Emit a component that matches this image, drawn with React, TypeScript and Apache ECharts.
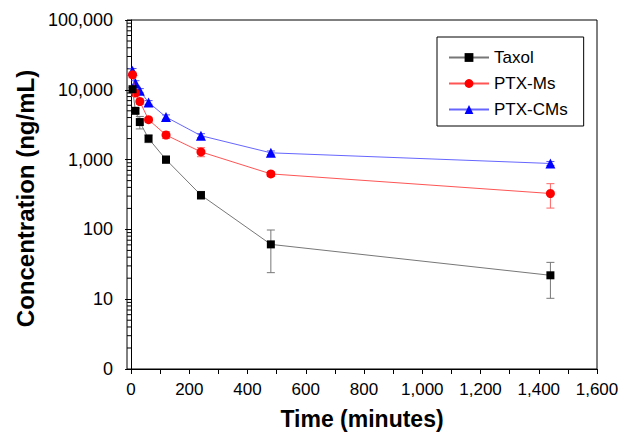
import React, { useEffect, useRef } from "react";
import * as echarts from "echarts";

const times = [5, 15, 30, 60, 120, 240, 480, 1440];
const taxol = [10200, 5000, 3450, 2000, 1000, 310, 61, 22];
const taxolErr = [600, 400, 700, 250, 120, 40, 37, 11.7];
const ptxMs = [16400, 9000, 6800, 3730, 2250, 1290, 624, 327];
const ptxMsErr = [1500, 900, 600, 300, 250, 190, 50, 125];
const ptxCMs = [18700, 12500, 9700, 6600, 4070, 2200, 1250, 880];
const ptxCMsErr = [1500, 1000, 700, 400, 300, 150, 80, 60];

const xTicks = [0, 100, 200, 300, 400, 500, 600, 700, 800, 900, 1000, 1100, 1200, 1300, 1400, 1500, 1600];
const xLabels = [0, 200, 400, 600, 800, 1000, 1200, 1400, 1600];
const yTicks = [1, 10, 100, 1000, 10000, 100000];
const yMinorTicks = [
  2, 3, 4, 5, 6, 7, 8, 9,
  20, 30, 40, 50, 60, 70, 80, 90,
  200, 300, 400, 500, 600, 700, 800, 900,
  2000, 3000, 4000, 5000, 6000, 7000, 8000, 9000,
  20000, 30000, 40000, 50000, 60000, 70000, 80000, 90000,
];

const FONT = "'Liberation Sans', Arial, sans-serif";

function errData(vals: number[], errs: number[]) {
  return times.map((t, i) => [t, Math.max(vals[i] - errs[i], 1.01), vals[i] + errs[i]]);
}

function errSeries(name: string, vals: number[], errs: number[], color: string) {
  return {
    type: "custom",
    name: name + "-err",
    z: 1,
    silent: true,
    data: errData(vals, errs),
    encode: { x: 0, y: [1, 2] },
    renderItem: (params: any, api: any) => {
      const x = api.value(0);
      const lo = api.value(1);
      const hi = api.value(2);
      const top = api.coord([x, hi]);
      const bot = api.coord([x, lo]);
      const w = 4;
      const style = { stroke: color, lineWidth: 1 };
      return {
        type: "group",
        children: [
          { type: "line", shape: { x1: top[0], y1: top[1], x2: bot[0], y2: bot[1] }, style },
          { type: "line", shape: { x1: top[0] - w, y1: top[1], x2: top[0] + w, y2: top[1] }, style },
          { type: "line", shape: { x1: bot[0] - w, y1: bot[1], x2: bot[0] + w, y2: bot[1] }, style },
        ],
      };
    },
  };
}

export default function App() {
  const ref = useRef<HTMLDivElement>(null);
  useEffect(() => {
    document.body.style.margin = "0";
    const chart = echarts.init(ref.current!, null, { renderer: "svg" });
    const fmt = (v: number) => (v === 1 ? "0" : Number(v).toLocaleString("en-US"));
    chart.setOption({
      animation: false,
      backgroundColor: "#ffffff",
      grid: {
        left: 127,
        right: 28,
        top: 20,
        bottom: 65,
        show: true,
        borderColor: "#000",
        borderWidth: 1,
        backgroundColor: "transparent",
      },
      legend: {
        data: ["Taxol", "PTX-Ms", "PTX-CMs"],
        orient: "vertical",
        left: 437,
        top: 37,
        itemWidth: 40,
        itemHeight: 11,
        itemGap: 9,
        padding: [12, 16, 8, 11],
        borderColor: "#000",
        borderWidth: 1,
        textStyle: { fontFamily: FONT, fontSize: 17, color: "#000" },
      },
      xAxis: {
        type: "value",
        min: -14,
        max: 1600,
        name: "Time (minutes)",
        nameLocation: "middle",
        nameGap: 38,
        nameTextStyle: { fontFamily: FONT, fontSize: 23, fontWeight: "bold", color: "#000" },
        axisLine: { show: true, onZero: false, lineStyle: { color: "#000", width: 1 } },
        axisTick: { show: true, customValues: xTicks, length: 5, lineStyle: { color: "#000" } },
        axisLabel: {
          customValues: xLabels,
          margin: 12,
          fontFamily: FONT,
          fontSize: 17,
          color: "#000",
          formatter: (v: number) => Number(v).toLocaleString("en-US"),
        },
        splitLine: { show: false },
      },
      yAxis: {
        type: "log",
        logBase: 10,
        min: 1,
        max: 100000,
        position: "left",
        name: "Concentration (ng/mL)",
        nameLocation: "middle",
        nameGap: 88,
        nameTextStyle: { fontFamily: FONT, fontSize: 24, fontWeight: "bold", color: "#000", padding: [0, 0, 0, -8] },
        axisLine: { show: true, lineStyle: { color: "#000", width: 1 } },
        axisTick: { show: true, customValues: yTicks, length: 6, lineStyle: { color: "#000" } },
        axisLabel: {
          customValues: yTicks,
          margin: 14,
          fontFamily: FONT,
          fontSize: 18,
          color: "#000",
          formatter: fmt,
        },
        splitLine: { show: false },
      },
      series: [
        {
          type: "custom",
          name: "minor-ticks",
          silent: true,
          z: 1,
          clip: false,
          data: yMinorTicks.map((v) => [1, v]),
          encode: { x: 0, y: 1 },
          renderItem: (params: any, api: any) => {
            const p = api.coord([0, api.value(1)]);
            const x0 = params.coordSys.x;
            return {
              type: "line",
              shape: { x1: x0, y1: p[1], x2: x0 + 4, y2: p[1] },
              style: { stroke: "#000", lineWidth: 1 },
            };
          },
        },
        errSeries("Taxol", taxol, taxolErr, "#777777"),
        errSeries("PTX-Ms", ptxMs, ptxMsErr, "#ff6666"),
        errSeries("PTX-CMs", ptxCMs, ptxCMsErr, "#5555ff"),
        {
          type: "line",
          name: "PTX-CMs",
          z: 3,
          data: times.map((t, i) => [t, ptxCMs[i]]),
          symbol: "triangle",
          symbolSize: 10,
          itemStyle: { color: "#0000ff" },
          lineStyle: { color: "#6666ff", width: 1 },
        },
        {
          type: "line",
          name: "PTX-Ms",
          z: 4,
          data: times.map((t, i) => [t, ptxMs[i]]),
          symbol: "circle",
          symbolSize: 9,
          itemStyle: { color: "#ff0000" },
          lineStyle: { color: "#ff5555", width: 1 },
        },
        {
          type: "line",
          name: "Taxol",
          z: 5,
          data: times.map((t, i) => [t, taxol[i]]),
          symbol: "rect",
          symbolSize: 8,
          itemStyle: { color: "#000000" },
          lineStyle: { color: "#777777", width: 1 },
        },
      ],
    });
    return () => chart.dispose();
  }, []);
  return (
    <div
      ref={ref}
      style={{ width: 625, height: 435, position: "fixed", left: 0, top: 0, background: "#fff" }}
    />
  );
}
